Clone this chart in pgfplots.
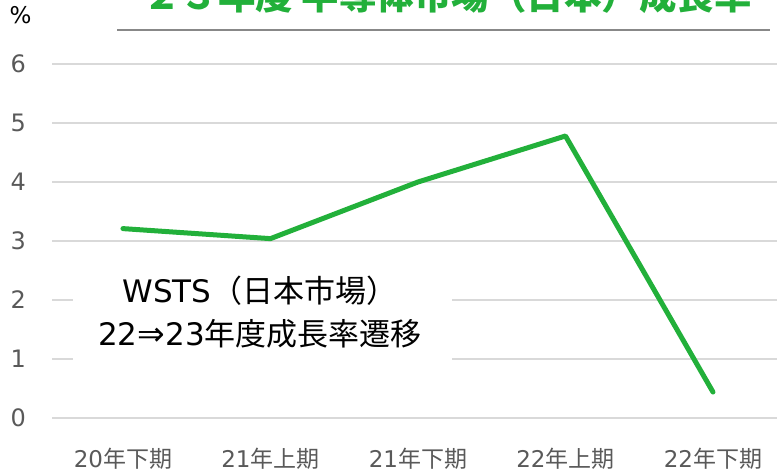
\documentclass[border=0pt]{standalone}
\usepackage{pgfplots}
\pgfplotsset{compat=1.18}
\usepackage{fontspec}
\setmainfont{Noto Sans CJK JP}
\newfontfamily\lat{DejaVu Sans}
\definecolor{lgreen}{RGB}{34,176,58}
\definecolor{tickgray}{RGB}{89,89,89}
\definecolor{gridgray}{RGB}{217,217,217}
\definecolor{rulegray}{RGB}{136,136,136}
\begin{document}
\begin{tikzpicture}[x=1pt,y=1pt]
\useasboundingbox (0,0) rectangle (777,472);
\begin{axis}[
 at={(52pt,54pt)}, anchor=south west,
 scale only axis, width=725pt, height=354pt,
 xmin=-0.481, xmax=4.434, ymin=0, ymax=6,
 xtick={0,1,2,3,4},
 xticklabels={{\lat 20}年下期,{\lat 21}年上期,{\lat 21}年下期,{\lat 22}年上期,{\lat 22}年下期},
 ytick={0,...,6},
 axis line style={draw=none},
 major tick length=0pt,
 ymajorgrids, major grid style={gridgray, line width=1.5pt},
 xticklabel style={font=\fontsize{23}{23}\selectfont, text=tickgray, anchor=base, yshift=-49pt},
 yticklabel style={font=\lat\fontsize{24}{24}\selectfont, text=tickgray, anchor=east, inner sep=0pt, xshift=-26pt},
 /pgf/number format/assume math mode=true,
]
\addplot[lgreen, line width=5pt, line cap=round, line join=round] coordinates {(0,3.21) (1,3.04) (2,4.0) (3,4.78) (4,0.44)};
\end{axis}
\fill[white] (73,87) rectangle (452,210);
\node[align=center, font=\fontsize{31}{43}\selectfont, inner sep=0] at (260,160) {{\lat WSTS}（日本市場）\\{\lat 22}{\fontsize{33}{43}\selectfont\lat ⇒}{\lat 23}年度成長率遷移};
\node[anchor=base west, font=\bfseries\fontsize{37.5}{37.5}\selectfont, text=lgreen, inner sep=0] at (143,462) {２３年度 半導体市場（日本）成長率};
\draw[rulegray, line width=2.5pt] (117,442) -- (770,442);
\node[font=\lat\fontsize{23}{23}\selectfont, inner sep=0] at (20.5,457) {\%};
\end{tikzpicture}
\end{document}
